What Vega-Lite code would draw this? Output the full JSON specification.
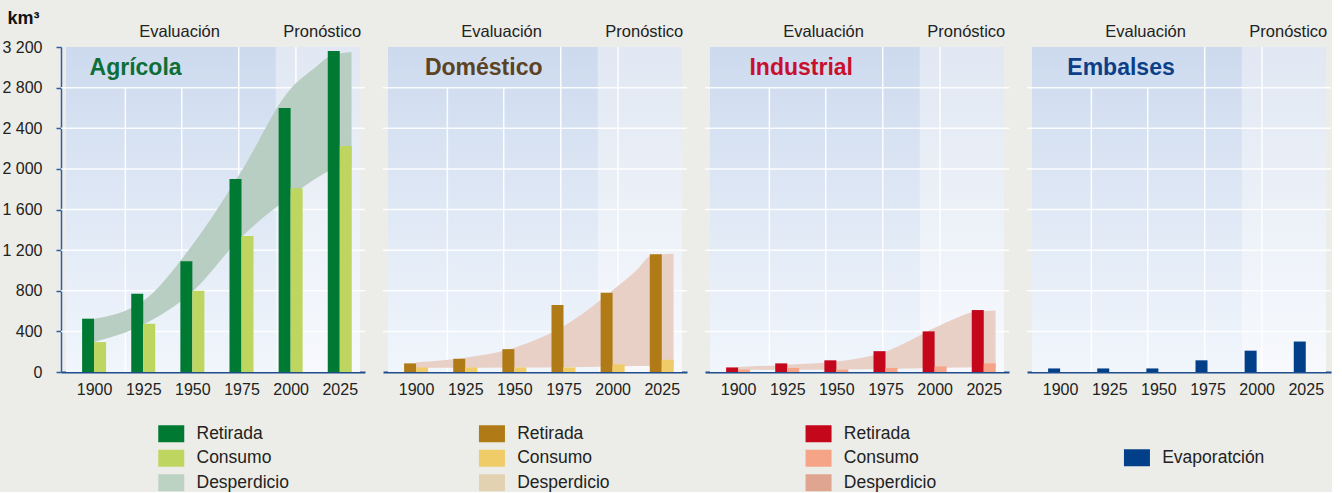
{
  "$schema": "https://vega.github.io/schema/vega-lite/v6.json",
  "background": "#ecede8",
  "padding": {"left": 1, "top": 9, "right": 0, "bottom": 0},
  "bounds": "flush",
  "spacing": 18,
  "config": {
    "font": "Liberation Sans",
    "view": {"stroke": null}
  },
  "resolve": {
    "scale": {"color": "independent", "x": "independent", "y": "independent"},
    "legend": {"color": "independent"}
  },
  "datasets": {
    "regions": [
      {"region": "Evaluación", "start": 1885.7, "end": 1992.5},
      {"region": "Pronóstico", "start": 1992.5, "end": 2035.3}
    ],
    "vgrid": [
      {"year": 1915.9, "top": 2800},
      {"year": 1944.6, "top": 2800},
      {"year": 1973.6, "top": 3200},
      {"year": 2002.7, "top": 3200}
    ],
    "hgrid": [
      {"v": 400}, {"v": 800}, {"v": 1200}, {"v": 1600}, {"v": 2000}, {"v": 2400}, {"v": 2800}
    ],
    "bars": [
      {"panel": "agr", "year": 1900, "series": "Retirada", "value": 525},
      {"panel": "agr", "year": 1925, "series": "Retirada", "value": 770},
      {"panel": "agr", "year": 1950, "series": "Retirada", "value": 1090},
      {"panel": "agr", "year": 1975, "series": "Retirada", "value": 1900},
      {"panel": "agr", "year": 2000, "series": "Retirada", "value": 2600},
      {"panel": "agr", "year": 2025, "series": "Retirada", "value": 3160},
      {"panel": "agr", "year": 1900, "series": "Consumo", "value": 295},
      {"panel": "agr", "year": 1925, "series": "Consumo", "value": 475},
      {"panel": "agr", "year": 1950, "series": "Consumo", "value": 800},
      {"panel": "agr", "year": 1975, "series": "Consumo", "value": 1340},
      {"panel": "agr", "year": 2000, "series": "Consumo", "value": 1810},
      {"panel": "agr", "year": 2025, "series": "Consumo", "value": 2225},
      {"panel": "dom", "year": 1900, "series": "Retirada", "value": 85},
      {"panel": "dom", "year": 1925, "series": "Retirada", "value": 130},
      {"panel": "dom", "year": 1950, "series": "Retirada", "value": 225},
      {"panel": "dom", "year": 1975, "series": "Retirada", "value": 660},
      {"panel": "dom", "year": 2000, "series": "Retirada", "value": 780},
      {"panel": "dom", "year": 2025, "series": "Retirada", "value": 1160},
      {"panel": "dom", "year": 1900, "series": "Consumo", "value": 45},
      {"panel": "dom", "year": 1925, "series": "Consumo", "value": 45},
      {"panel": "dom", "year": 1950, "series": "Consumo", "value": 45},
      {"panel": "dom", "year": 1975, "series": "Consumo", "value": 45},
      {"panel": "dom", "year": 2000, "series": "Consumo", "value": 75},
      {"panel": "dom", "year": 2025, "series": "Consumo", "value": 120},
      {"panel": "ind", "year": 1900, "series": "Retirada", "value": 45},
      {"panel": "ind", "year": 1925, "series": "Retirada", "value": 85},
      {"panel": "ind", "year": 1950, "series": "Retirada", "value": 115},
      {"panel": "ind", "year": 1975, "series": "Retirada", "value": 205},
      {"panel": "ind", "year": 2000, "series": "Retirada", "value": 400},
      {"panel": "ind", "year": 2025, "series": "Retirada", "value": 610},
      {"panel": "ind", "year": 1900, "series": "Consumo", "value": 25},
      {"panel": "ind", "year": 1925, "series": "Consumo", "value": 40},
      {"panel": "ind", "year": 1950, "series": "Consumo", "value": 25},
      {"panel": "ind", "year": 1975, "series": "Consumo", "value": 40},
      {"panel": "ind", "year": 2000, "series": "Consumo", "value": 55},
      {"panel": "ind", "year": 2025, "series": "Consumo", "value": 85},
      {"panel": "emb", "year": 1900, "series": "Evaporatción", "value": 35},
      {"panel": "emb", "year": 1925, "series": "Evaporatción", "value": 35},
      {"panel": "emb", "year": 1950, "series": "Evaporatción", "value": 35},
      {"panel": "emb", "year": 1975, "series": "Evaporatción", "value": 115},
      {"panel": "emb", "year": 2000, "series": "Evaporatción", "value": 210},
      {"panel": "emb", "year": 2025, "series": "Evaporatción", "value": 300}
    ],
    "bands": [
      {"panel": "agr", "year": 1900, "lo": 295, "hi": 525},
      {"panel": "agr", "year": 1925, "lo": 465, "hi": 700},
      {"panel": "agr", "year": 1950, "lo": 790, "hi": 1250},
      {"panel": "agr", "year": 1975, "lo": 1330, "hi": 1980},
      {"panel": "agr", "year": 2000, "lo": 1730, "hi": 2790},
      {"panel": "agr", "year": 2012, "lo": 1895, "hi": 2990},
      {"panel": "agr", "year": 2020, "lo": 1985, "hi": 3110},
      {"panel": "agr", "year": 2031, "lo": 2037, "hi": 3150},
      {"panel": "dom", "year": 1900, "lo": 40, "hi": 95},
      {"panel": "dom", "year": 1925, "lo": 42, "hi": 140},
      {"panel": "dom", "year": 1950, "lo": 45, "hi": 240},
      {"panel": "dom", "year": 1975, "lo": 48, "hi": 450},
      {"panel": "dom", "year": 2000, "lo": 55, "hi": 805},
      {"panel": "dom", "year": 2012, "lo": 58, "hi": 1000},
      {"panel": "dom", "year": 2020, "lo": 60, "hi": 1150},
      {"panel": "dom", "year": 2031, "lo": 62, "hi": 1165},
      {"panel": "ind", "year": 1900, "lo": 20, "hi": 50},
      {"panel": "ind", "year": 1925, "lo": 22, "hi": 72},
      {"panel": "ind", "year": 1950, "lo": 25, "hi": 103},
      {"panel": "ind", "year": 1975, "lo": 30, "hi": 200},
      {"panel": "ind", "year": 2000, "lo": 40, "hi": 435},
      {"panel": "ind", "year": 2012, "lo": 45, "hi": 540},
      {"panel": "ind", "year": 2020, "lo": 48, "hi": 590},
      {"panel": "ind", "year": 2031, "lo": 50, "hi": 605}
    ]
  },
  "hconcat": [
    {
      "width": 304,
      "height": 325,
      "layer": [
        {
          "data": {"name": "regions"},
          "transform": [{"filter": "datum.region === 'Evaluación'"}],
          "mark": {"type": "rect", "fill": {"gradient": "linear", "x1": 0, "y1": 0, "x2": 0, "y2": 1, "stops": [{"offset": 0, "color": "#cddaee"}, {"offset": 1, "color": "#f1f6fc"}]}},
          "encoding": {
            "x": {"field": "start", "type": "quantitative", "scale": {"domain": [1885.7, 2035.3], "nice": false, "zero": false}},
            "x2": {"field": "end"},
            "y": {"datum": 3200, "type": "quantitative", "scale": {"domain": [0, 3200], "nice": false}},
            "y2": {"datum": 0}
          }
        },
        {
          "data": {"name": "regions"},
          "transform": [{"filter": "datum.region === 'Pronóstico'"}],
          "mark": {"type": "rect", "fill": {"gradient": "linear", "x1": 0, "y1": 0, "x2": 0, "y2": 1, "stops": [{"offset": 0, "color": "#e1e8f3"}, {"offset": 1, "color": "#f7f9fd"}]}},
          "encoding": {
            "x": {"field": "start", "type": "quantitative", "scale": {"domain": [1885.7, 2035.3], "nice": false, "zero": false}},
            "x2": {"field": "end"},
            "y": {"datum": 3200, "type": "quantitative", "scale": {"domain": [0, 3200], "nice": false}},
            "y2": {"datum": 0}
          }
        },
        {
          "data": {"name": "hgrid"},
          "mark": {"type": "rule", "color": "#ffffff", "strokeWidth": 1.5, "opacity": 0.9},
          "encoding": {
            "y": {"field": "v", "type": "quantitative", "scale": {"domain": [0, 3200], "nice": false}}
          }
        },
        {
          "data": {"name": "vgrid"},
          "mark": {"type": "rule", "color": "#ffffff", "strokeWidth": 1.5, "opacity": 0.9},
          "encoding": {
            "x": {"field": "year", "type": "quantitative", "scale": {"domain": [1885.7, 2035.3], "nice": false, "zero": false}},
            "y": {"field": "top", "type": "quantitative", "scale": {"domain": [0, 3200], "nice": false}},
            "y2": {"datum": 0}
          }
        },
        {
          "data": {"name": "bands"},
          "transform": [{"filter": "datum.panel === 'agr'"}],
          "mark": {"type": "area", "interpolate": "monotone", "color": "#b9cec3", "orient": "vertical"},
          "encoding": {
            "x": {"field": "year", "type": "quantitative", "scale": {"domain": [1885.7, 2035.3], "nice": false, "zero": false}},
            "y": {"field": "hi", "type": "quantitative", "scale": {"domain": [0, 3200], "nice": false}},
            "y2": {"field": "lo"}
          }
        },
        {
          "data": {"name": "bars"},
          "transform": [{"filter": "datum.panel === 'agr' && datum.series === 'Retirada'"}],
          "mark": {"type": "bar", "width": 12, "xOffset": -6, "orient": "vertical"},
          "encoding": {
            "x": {"field": "year", "type": "quantitative", "scale": {"domain": [1885.7, 2035.3], "nice": false, "zero": false},
              "axis": {"values": [1900, 1925, 1950, 1975, 2000, 2025], "format": "d", "grid": false, "ticks": false, "domainColor": "#1f4d8c", "domainWidth": 2, "labelFontSize": 16, "labelColor": "#222222", "labelPadding": 9, "title": null, "labelFlush": false, "labelOverlap": false}},
            "y": {"field": "value", "type": "quantitative", "scale": {"domain": [0, 3200], "nice": false},
              "axis": {"values": [0, 400, 800, 1200, 1600, 2000, 2400, 2800, 3200], "labelExpr": "replace(format(datum.value, ','), ',', ' ')", "grid": false, "domainColor": "#2d5e9e", "domainWidth": 1.5, "tickColor": "#2d5e9e", "tickSize": 5, "tickWidth": 1.5, "labelFontSize": 16, "labelPadding": 14, "labelColor": "#222222", "title": "km³", "titleAngle": 0, "titleAlign": "left", "titleBaseline": "alphabetic", "titleX": -54, "titleY": -24, "titleFontSize": 18, "titleFontWeight": "bold", "titleColor": "#111111", "labelFlush": false, "labelOverlap": false}},
            "color": {"field": "series", "type": "nominal",
              "scale": {"domain": ["Retirada", "Consumo", "Desperdicio"], "range": ["#007a33", "#bed65f", "#bcd2c3"]},
              "legend": {"orient": "none", "legendX": 101.5, "legendY": 378, "title": null, "symbolType": "M-1.53,-1H1.53V1H-1.53Z", "symbolSize": 289, "symbolStrokeWidth": 0, "labelFontSize": 17.5, "labelColor": "#222222", "labelOffset": 16.5, "rowPadding": 5.5, "padding": 0, "symbolOpacity": 1}}
          }
        },
        {
          "data": {"name": "bars"},
          "transform": [{"filter": "datum.panel === 'agr' && datum.series === 'Consumo'"}],
          "mark": {"type": "bar", "width": 12, "xOffset": 6, "orient": "vertical"},
          "encoding": {
            "x": {"field": "year", "type": "quantitative", "scale": {"domain": [1885.7, 2035.3], "nice": false, "zero": false}},
            "y": {"field": "value", "type": "quantitative", "scale": {"domain": [0, 3200], "nice": false}},
            "color": {"field": "series", "type": "nominal",
              "scale": {"domain": ["Retirada", "Consumo", "Desperdicio"], "range": ["#007a33", "#bed65f", "#bcd2c3"]},
              "legend": {"orient": "none", "legendX": 101.5, "legendY": 378, "title": null, "symbolType": "M-1.53,-1H1.53V1H-1.53Z", "symbolSize": 289, "symbolStrokeWidth": 0, "labelFontSize": 17.5, "labelColor": "#222222", "labelOffset": 16.5, "rowPadding": 5.5, "padding": 0, "symbolOpacity": 1}}
          }
        },
        {
          "data": {"values": [{}]},
          "mark": {"type": "text", "text": "Agrícola", "fontSize": 23, "fontWeight": "bold", "color": "#0e6e37", "align": "center", "baseline": "alphabetic"},
          "encoding": {
            "x": {"datum": 1921.1, "type": "quantitative", "scale": {"domain": [1885.7, 2035.3], "nice": false, "zero": false}},
            "y": {"datum": 2923, "type": "quantitative", "scale": {"domain": [0, 3200], "nice": false}}
          }
        },
        {
          "data": {"values": [{}]},
          "mark": {"type": "text", "text": "Evaluación", "fontSize": 16.5, "color": "#222222", "align": "center", "baseline": "alphabetic"},
          "encoding": {
            "x": {"datum": 1943.5, "type": "quantitative", "scale": {"domain": [1885.7, 2035.3], "nice": false, "zero": false}},
            "y": {"datum": 3297, "type": "quantitative", "scale": {"domain": [0, 3200], "nice": false}}
          }
        },
        {
          "data": {"values": [{}]},
          "mark": {"type": "text", "text": "Pronóstico", "fontSize": 16.5, "color": "#222222", "align": "center", "baseline": "alphabetic"},
          "encoding": {
            "x": {"datum": 2016.1, "type": "quantitative", "scale": {"domain": [1885.7, 2035.3], "nice": false, "zero": false}},
            "y": {"datum": 3297, "type": "quantitative", "scale": {"domain": [0, 3200], "nice": false}}
          }
        }
      ]
    },
    {
      "width": 304,
      "height": 325,
      "layer": [
        {
          "data": {"name": "regions"},
          "transform": [{"filter": "datum.region === 'Evaluación'"}],
          "mark": {"type": "rect", "fill": {"gradient": "linear", "x1": 0, "y1": 0, "x2": 0, "y2": 1, "stops": [{"offset": 0, "color": "#cddaee"}, {"offset": 1, "color": "#f1f6fc"}]}},
          "encoding": {
            "x": {"field": "start", "type": "quantitative", "scale": {"domain": [1885.7, 2035.3], "nice": false, "zero": false}},
            "x2": {"field": "end"},
            "y": {"datum": 3200, "type": "quantitative", "scale": {"domain": [0, 3200], "nice": false}, "axis": null},
            "y2": {"datum": 0}
          }
        },
        {
          "data": {"name": "regions"},
          "transform": [{"filter": "datum.region === 'Pronóstico'"}],
          "mark": {"type": "rect", "fill": {"gradient": "linear", "x1": 0, "y1": 0, "x2": 0, "y2": 1, "stops": [{"offset": 0, "color": "#e1e8f3"}, {"offset": 1, "color": "#f7f9fd"}]}},
          "encoding": {
            "x": {"field": "start", "type": "quantitative", "scale": {"domain": [1885.7, 2035.3], "nice": false, "zero": false}},
            "x2": {"field": "end"},
            "y": {"datum": 3200, "type": "quantitative", "scale": {"domain": [0, 3200], "nice": false}, "axis": null},
            "y2": {"datum": 0}
          }
        },
        {
          "data": {"name": "hgrid"},
          "mark": {"type": "rule", "color": "#ffffff", "strokeWidth": 1.5, "opacity": 0.9},
          "encoding": {
            "y": {"field": "v", "type": "quantitative", "scale": {"domain": [0, 3200], "nice": false}, "axis": null}
          }
        },
        {
          "data": {"name": "vgrid"},
          "mark": {"type": "rule", "color": "#ffffff", "strokeWidth": 1.5, "opacity": 0.9},
          "encoding": {
            "x": {"field": "year", "type": "quantitative", "scale": {"domain": [1885.7, 2035.3], "nice": false, "zero": false}},
            "y": {"field": "top", "type": "quantitative", "scale": {"domain": [0, 3200], "nice": false}, "axis": null},
            "y2": {"datum": 0}
          }
        },
        {
          "data": {"name": "bands"},
          "transform": [{"filter": "datum.panel === 'dom'"}],
          "mark": {"type": "area", "interpolate": "monotone", "color": "#e9d0c6", "orient": "vertical"},
          "encoding": {
            "x": {"field": "year", "type": "quantitative", "scale": {"domain": [1885.7, 2035.3], "nice": false, "zero": false}},
            "y": {"field": "hi", "type": "quantitative", "scale": {"domain": [0, 3200], "nice": false}, "axis": null},
            "y2": {"field": "lo"}
          }
        },
        {
          "data": {"name": "bars"},
          "transform": [{"filter": "datum.panel === 'dom' && datum.series === 'Retirada'"}],
          "mark": {"type": "bar", "width": 12, "xOffset": -6, "orient": "vertical"},
          "encoding": {
            "x": {"field": "year", "type": "quantitative", "scale": {"domain": [1885.7, 2035.3], "nice": false, "zero": false},
              "axis": {"values": [1900, 1925, 1950, 1975, 2000, 2025], "format": "d", "grid": false, "ticks": false, "domainColor": "#1f4d8c", "domainWidth": 2, "labelFontSize": 16, "labelColor": "#222222", "labelPadding": 9, "title": null, "labelFlush": false, "labelOverlap": false}},
            "y": {"field": "value", "type": "quantitative", "scale": {"domain": [0, 3200], "nice": false}, "axis": null},
            "color": {"field": "series", "type": "nominal",
              "scale": {"domain": ["Retirada", "Consumo", "Desperdicio"], "range": ["#b07a16", "#f0cc69", "#e2d2b2"]},
              "legend": {"orient": "none", "legendX": 100.2, "legendY": 378, "title": null, "symbolType": "M-1.53,-1H1.53V1H-1.53Z", "symbolSize": 289, "symbolStrokeWidth": 0, "labelFontSize": 17.5, "labelColor": "#222222", "labelOffset": 16.5, "rowPadding": 5.5, "padding": 0, "symbolOpacity": 1}}
          }
        },
        {
          "data": {"name": "bars"},
          "transform": [{"filter": "datum.panel === 'dom' && datum.series === 'Consumo'"}],
          "mark": {"type": "bar", "width": 12, "xOffset": 6, "orient": "vertical"},
          "encoding": {
            "x": {"field": "year", "type": "quantitative", "scale": {"domain": [1885.7, 2035.3], "nice": false, "zero": false}},
            "y": {"field": "value", "type": "quantitative", "scale": {"domain": [0, 3200], "nice": false}, "axis": null},
            "color": {"field": "series", "type": "nominal",
              "scale": {"domain": ["Retirada", "Consumo", "Desperdicio"], "range": ["#b07a16", "#f0cc69", "#e2d2b2"]},
              "legend": {"orient": "none", "legendX": 100.2, "legendY": 378, "title": null, "symbolType": "M-1.53,-1H1.53V1H-1.53Z", "symbolSize": 289, "symbolStrokeWidth": 0, "labelFontSize": 17.5, "labelColor": "#222222", "labelOffset": 16.5, "rowPadding": 5.5, "padding": 0, "symbolOpacity": 1}}
          }
        },
        {
          "data": {"values": [{}]},
          "mark": {"type": "text", "text": "Doméstico", "fontSize": 23, "fontWeight": "bold", "color": "#5b4324", "align": "center", "baseline": "alphabetic"},
          "encoding": {
            "x": {"datum": 1934.4, "type": "quantitative", "scale": {"domain": [1885.7, 2035.3], "nice": false, "zero": false}},
            "y": {"datum": 2923, "type": "quantitative", "scale": {"domain": [0, 3200], "nice": false}, "axis": null}
          }
        },
        {
          "data": {"values": [{}]},
          "mark": {"type": "text", "text": "Evaluación", "fontSize": 16.5, "color": "#222222", "align": "center", "baseline": "alphabetic"},
          "encoding": {
            "x": {"datum": 1943.5, "type": "quantitative", "scale": {"domain": [1885.7, 2035.3], "nice": false, "zero": false}},
            "y": {"datum": 3297, "type": "quantitative", "scale": {"domain": [0, 3200], "nice": false}, "axis": null}
          }
        },
        {
          "data": {"values": [{}]},
          "mark": {"type": "text", "text": "Pronóstico", "fontSize": 16.5, "color": "#222222", "align": "center", "baseline": "alphabetic"},
          "encoding": {
            "x": {"datum": 2016.1, "type": "quantitative", "scale": {"domain": [1885.7, 2035.3], "nice": false, "zero": false}},
            "y": {"datum": 3297, "type": "quantitative", "scale": {"domain": [0, 3200], "nice": false}, "axis": null}
          }
        }
      ]
    },
    {
      "width": 304,
      "height": 325,
      "layer": [
        {
          "data": {"name": "regions"},
          "transform": [{"filter": "datum.region === 'Evaluación'"}],
          "mark": {"type": "rect", "fill": {"gradient": "linear", "x1": 0, "y1": 0, "x2": 0, "y2": 1, "stops": [{"offset": 0, "color": "#cddaee"}, {"offset": 1, "color": "#f1f6fc"}]}},
          "encoding": {
            "x": {"field": "start", "type": "quantitative", "scale": {"domain": [1885.7, 2035.3], "nice": false, "zero": false}},
            "x2": {"field": "end"},
            "y": {"datum": 3200, "type": "quantitative", "scale": {"domain": [0, 3200], "nice": false}, "axis": null},
            "y2": {"datum": 0}
          }
        },
        {
          "data": {"name": "regions"},
          "transform": [{"filter": "datum.region === 'Pronóstico'"}],
          "mark": {"type": "rect", "fill": {"gradient": "linear", "x1": 0, "y1": 0, "x2": 0, "y2": 1, "stops": [{"offset": 0, "color": "#e1e8f3"}, {"offset": 1, "color": "#f7f9fd"}]}},
          "encoding": {
            "x": {"field": "start", "type": "quantitative", "scale": {"domain": [1885.7, 2035.3], "nice": false, "zero": false}},
            "x2": {"field": "end"},
            "y": {"datum": 3200, "type": "quantitative", "scale": {"domain": [0, 3200], "nice": false}, "axis": null},
            "y2": {"datum": 0}
          }
        },
        {
          "data": {"name": "hgrid"},
          "mark": {"type": "rule", "color": "#ffffff", "strokeWidth": 1.5, "opacity": 0.9},
          "encoding": {
            "y": {"field": "v", "type": "quantitative", "scale": {"domain": [0, 3200], "nice": false}, "axis": null}
          }
        },
        {
          "data": {"name": "vgrid"},
          "mark": {"type": "rule", "color": "#ffffff", "strokeWidth": 1.5, "opacity": 0.9},
          "encoding": {
            "x": {"field": "year", "type": "quantitative", "scale": {"domain": [1885.7, 2035.3], "nice": false, "zero": false}},
            "y": {"field": "top", "type": "quantitative", "scale": {"domain": [0, 3200], "nice": false}, "axis": null},
            "y2": {"datum": 0}
          }
        },
        {
          "data": {"name": "bands"},
          "transform": [{"filter": "datum.panel === 'ind'"}],
          "mark": {"type": "area", "interpolate": "monotone", "color": "#e9d0c6", "orient": "vertical"},
          "encoding": {
            "x": {"field": "year", "type": "quantitative", "scale": {"domain": [1885.7, 2035.3], "nice": false, "zero": false}},
            "y": {"field": "hi", "type": "quantitative", "scale": {"domain": [0, 3200], "nice": false}, "axis": null},
            "y2": {"field": "lo"}
          }
        },
        {
          "data": {"name": "bars"},
          "transform": [{"filter": "datum.panel === 'ind' && datum.series === 'Retirada'"}],
          "mark": {"type": "bar", "width": 12, "xOffset": -6, "orient": "vertical"},
          "encoding": {
            "x": {"field": "year", "type": "quantitative", "scale": {"domain": [1885.7, 2035.3], "nice": false, "zero": false},
              "axis": {"values": [1900, 1925, 1950, 1975, 2000, 2025], "format": "d", "grid": false, "ticks": false, "domainColor": "#1f4d8c", "domainWidth": 2, "labelFontSize": 16, "labelColor": "#222222", "labelPadding": 9, "title": null, "labelFlush": false, "labelOverlap": false}},
            "y": {"field": "value", "type": "quantitative", "scale": {"domain": [0, 3200], "nice": false}, "axis": null},
            "color": {"field": "series", "type": "nominal",
              "scale": {"domain": ["Retirada", "Consumo", "Desperdicio"], "range": ["#c4071b", "#f6a488", "#e0a591"]},
              "legend": {"orient": "none", "legendX": 104.8, "legendY": 378, "title": null, "symbolType": "M-1.53,-1H1.53V1H-1.53Z", "symbolSize": 289, "symbolStrokeWidth": 0, "labelFontSize": 17.5, "labelColor": "#222222", "labelOffset": 16.5, "rowPadding": 5.5, "padding": 0, "symbolOpacity": 1}}
          }
        },
        {
          "data": {"name": "bars"},
          "transform": [{"filter": "datum.panel === 'ind' && datum.series === 'Consumo'"}],
          "mark": {"type": "bar", "width": 12, "xOffset": 6, "orient": "vertical"},
          "encoding": {
            "x": {"field": "year", "type": "quantitative", "scale": {"domain": [1885.7, 2035.3], "nice": false, "zero": false}},
            "y": {"field": "value", "type": "quantitative", "scale": {"domain": [0, 3200], "nice": false}, "axis": null},
            "color": {"field": "series", "type": "nominal",
              "scale": {"domain": ["Retirada", "Consumo", "Desperdicio"], "range": ["#c4071b", "#f6a488", "#e0a591"]},
              "legend": {"orient": "none", "legendX": 104.8, "legendY": 378, "title": null, "symbolType": "M-1.53,-1H1.53V1H-1.53Z", "symbolSize": 289, "symbolStrokeWidth": 0, "labelFontSize": 17.5, "labelColor": "#222222", "labelOffset": 16.5, "rowPadding": 5.5, "padding": 0, "symbolOpacity": 1}}
          }
        },
        {
          "data": {"values": [{}]},
          "mark": {"type": "text", "text": "Industrial", "fontSize": 23, "fontWeight": "bold", "color": "#c8102e", "align": "center", "baseline": "alphabetic"},
          "encoding": {
            "x": {"datum": 1932.1, "type": "quantitative", "scale": {"domain": [1885.7, 2035.3], "nice": false, "zero": false}},
            "y": {"datum": 2923, "type": "quantitative", "scale": {"domain": [0, 3200], "nice": false}, "axis": null}
          }
        },
        {
          "data": {"values": [{}]},
          "mark": {"type": "text", "text": "Evaluación", "fontSize": 16.5, "color": "#222222", "align": "center", "baseline": "alphabetic"},
          "encoding": {
            "x": {"datum": 1943.5, "type": "quantitative", "scale": {"domain": [1885.7, 2035.3], "nice": false, "zero": false}},
            "y": {"datum": 3297, "type": "quantitative", "scale": {"domain": [0, 3200], "nice": false}, "axis": null}
          }
        },
        {
          "data": {"values": [{}]},
          "mark": {"type": "text", "text": "Pronóstico", "fontSize": 16.5, "color": "#222222", "align": "center", "baseline": "alphabetic"},
          "encoding": {
            "x": {"datum": 2016.1, "type": "quantitative", "scale": {"domain": [1885.7, 2035.3], "nice": false, "zero": false}},
            "y": {"datum": 3297, "type": "quantitative", "scale": {"domain": [0, 3200], "nice": false}, "axis": null}
          }
        }
      ]
    },
    {
      "width": 304,
      "height": 325,
      "layer": [
        {
          "data": {"name": "regions"},
          "transform": [{"filter": "datum.region === 'Evaluación'"}],
          "mark": {"type": "rect", "fill": {"gradient": "linear", "x1": 0, "y1": 0, "x2": 0, "y2": 1, "stops": [{"offset": 0, "color": "#cddaee"}, {"offset": 1, "color": "#f1f6fc"}]}},
          "encoding": {
            "x": {"field": "start", "type": "quantitative", "scale": {"domain": [1885.7, 2035.3], "nice": false, "zero": false}},
            "x2": {"field": "end"},
            "y": {"datum": 3200, "type": "quantitative", "scale": {"domain": [0, 3200], "nice": false}, "axis": null},
            "y2": {"datum": 0}
          }
        },
        {
          "data": {"name": "regions"},
          "transform": [{"filter": "datum.region === 'Pronóstico'"}],
          "mark": {"type": "rect", "fill": {"gradient": "linear", "x1": 0, "y1": 0, "x2": 0, "y2": 1, "stops": [{"offset": 0, "color": "#e1e8f3"}, {"offset": 1, "color": "#f7f9fd"}]}},
          "encoding": {
            "x": {"field": "start", "type": "quantitative", "scale": {"domain": [1885.7, 2035.3], "nice": false, "zero": false}},
            "x2": {"field": "end"},
            "y": {"datum": 3200, "type": "quantitative", "scale": {"domain": [0, 3200], "nice": false}, "axis": null},
            "y2": {"datum": 0}
          }
        },
        {
          "data": {"name": "hgrid"},
          "mark": {"type": "rule", "color": "#ffffff", "strokeWidth": 1.5, "opacity": 0.9},
          "encoding": {
            "y": {"field": "v", "type": "quantitative", "scale": {"domain": [0, 3200], "nice": false}, "axis": null}
          }
        },
        {
          "data": {"name": "vgrid"},
          "mark": {"type": "rule", "color": "#ffffff", "strokeWidth": 1.5, "opacity": 0.9},
          "encoding": {
            "x": {"field": "year", "type": "quantitative", "scale": {"domain": [1885.7, 2035.3], "nice": false, "zero": false}},
            "y": {"field": "top", "type": "quantitative", "scale": {"domain": [0, 3200], "nice": false}, "axis": null},
            "y2": {"datum": 0}
          }
        },
        {
          "data": {"name": "bars"},
          "transform": [{"filter": "datum.panel === 'emb'"}],
          "mark": {"type": "bar", "width": 12, "xOffset": -6, "orient": "vertical"},
          "encoding": {
            "x": {"field": "year", "type": "quantitative", "scale": {"domain": [1885.7, 2035.3], "nice": false, "zero": false},
              "axis": {"values": [1900, 1925, 1950, 1975, 2000, 2025], "format": "d", "grid": false, "ticks": false, "domainColor": "#1f4d8c", "domainWidth": 2, "labelFontSize": 16, "labelColor": "#222222", "labelPadding": 9, "title": null, "labelFlush": false, "labelOverlap": false}},
            "y": {"field": "value", "type": "quantitative", "scale": {"domain": [0, 3200], "nice": false}, "axis": null},
            "color": {"field": "series", "type": "nominal",
              "scale": {"domain": ["Evaporatción"], "range": ["#013f88"]},
              "legend": {"orient": "none", "legendX": 101.2, "legendY": 402, "title": null, "symbolType": "M-1.53,-1H1.53V1H-1.53Z", "symbolSize": 289, "symbolStrokeWidth": 0, "labelFontSize": 17.5, "labelColor": "#222222", "labelOffset": 16.5, "rowPadding": 5.5, "padding": 0, "symbolOpacity": 1}}
          }
        },
        {
          "data": {"values": [{}]},
          "mark": {"type": "text", "text": "Embalses", "fontSize": 23, "fontWeight": "bold", "color": "#0c3f88", "align": "center", "baseline": "alphabetic"},
          "encoding": {
            "x": {"datum": 1931.0, "type": "quantitative", "scale": {"domain": [1885.7, 2035.3], "nice": false, "zero": false}},
            "y": {"datum": 2923, "type": "quantitative", "scale": {"domain": [0, 3200], "nice": false}, "axis": null}
          }
        },
        {
          "data": {"values": [{}]},
          "mark": {"type": "text", "text": "Evaluación", "fontSize": 16.5, "color": "#222222", "align": "center", "baseline": "alphabetic"},
          "encoding": {
            "x": {"datum": 1943.5, "type": "quantitative", "scale": {"domain": [1885.7, 2035.3], "nice": false, "zero": false}},
            "y": {"datum": 3297, "type": "quantitative", "scale": {"domain": [0, 3200], "nice": false}, "axis": null}
          }
        },
        {
          "data": {"values": [{}]},
          "mark": {"type": "text", "text": "Pronóstico", "fontSize": 16.5, "color": "#222222", "align": "center", "baseline": "alphabetic"},
          "encoding": {
            "x": {"datum": 2016.1, "type": "quantitative", "scale": {"domain": [1885.7, 2035.3], "nice": false, "zero": false}},
            "y": {"datum": 3297, "type": "quantitative", "scale": {"domain": [0, 3200], "nice": false}, "axis": null}
          }
        }
      ]
    }
  ]
}
